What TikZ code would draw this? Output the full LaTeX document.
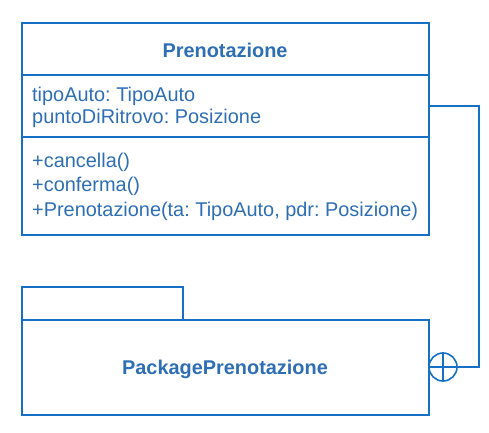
\documentclass[tikz,border=0pt]{standalone}
\usepackage{fontspec}
\setmainfont{Liberation Sans}
\frenchspacing
\definecolor{linec}{RGB}{22,112,198}
\definecolor{textc}{RGB}{46,110,180}
\begin{document}
\begin{tikzpicture}[x=1pt,y=-1pt,
  box/.style={draw=linec,line width=1.6pt},
  txt/.style={text=textc,font=\fontsize{19.9}{22}\selectfont,inner sep=0pt,anchor=west},
  ttl/.style={text=textc,font=\fontsize{19.9}{22}\selectfont\bfseries,inner sep=0pt},
  conn/.style={draw=linec,line width=1.6pt}]
\useasboundingbox (0,0) rectangle (489,432);
% class box
\node[box,minimum width=407pt,minimum height=52pt,anchor=north west,inner sep=0pt] (cname) at (21,22) {};
\node[box,minimum width=407pt,minimum height=62pt,anchor=north west,inner sep=0pt] (cattr) at (21,74) {};
\node[box,minimum width=407pt,minimum height=98pt,anchor=north west,inner sep=0pt] (cmeth) at (21,136) {};
\node[ttl] (title) at (225,50) {Prenotazione};
\node[txt] (a1) at (32,96) {tipoAuto: TipoAuto};
\node[txt] (a2) at (32,118) {puntoDiRitrovo: Posizione};
\node[txt] (m1) at (32,162) {+cancella()};
\node[txt] (m2) at (32,186) {+conferma()};
\node[txt] (m3) at (32,211) {+Prenotazione(ta: TipoAuto, pdr: Posizione)};
% package
\node[box,minimum width=161pt,minimum height=33pt,anchor=north west,inner sep=0pt] (tab) at (21,286) {};
\node[box,minimum width=407pt,minimum height=95pt,anchor=north west,inner sep=0pt] (pkg) at (21,319) {};
\node[ttl] (ptitle) at (225,369) {PackagePrenotazione};
% nesting connector
\node[draw=linec,line width=1.6pt,circle,minimum size=28pt,inner sep=0pt] (circ) at (443,367) {};
\draw[conn] (circ.north) -- (circ.south);
\draw[conn] (circ.west) -- (circ.east);
\coordinate (c1) at (479,106);
\coordinate (c2) at (479,367);
\draw[conn] (cattr.east |- c1) -- (c1) -- (c2) -- (circ.east);
\end{tikzpicture}
\end{document}
